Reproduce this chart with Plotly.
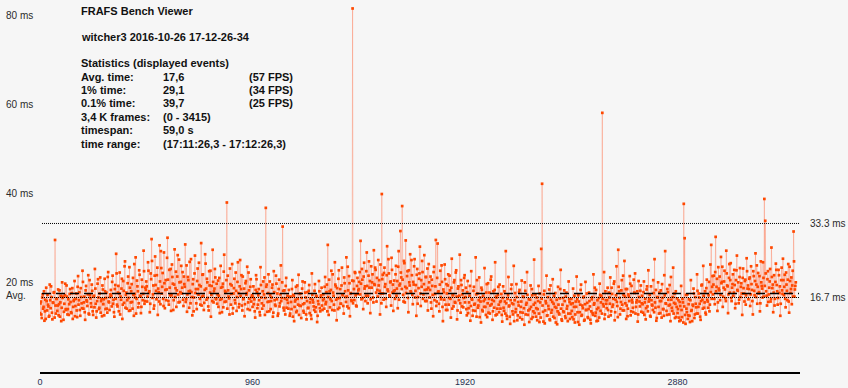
import plotly.graph_objects as go

# ---------------- data ----------------
# samples at frames 0, 4, 8, ...
frame_times_a = [
    13.2, 15.8, 12.1, 17.4, 14.6, 11.5, 16.2, 18.9, 13.8, 15.1, 12.4, 19.6, 14.3, 16.8, 11.8, 15.5, 17.9, 29.6, 13.1, 16.4,
    14.9, 12.7, 18.3, 15.6, 11.4, 20.1, 16.9, 13.5, 17.2, 14.1, 19.4, 12.9, 16.3, 15.2, 18.6, 13.4, 17.7, 11.9, 15.9, 20.4,
    14.8, 17.6, 12.3, 21.5, 16.1, 13.9, 18.8, 15.4, 22.7, 14.2, 16.9, 11.7, 19.3, 15.8, 17.4, 13.1, 20.6, 16.5, 14.6, 18.2,
    12.8, 17.1, 23.1, 15.3, 13.6, 19.8, 16.7, 14.4, 21.2, 15.9, 12.5, 18.5, 16.3, 20.9, 14.1, 17.8, 13.3, 22.4, 15.6, 16.8,
    18.4, 14.7, 21.6, 16.2, 12.4, 19.5, 26.5, 15.1, 17.8, 13.6, 22.3, 16.9, 18.7, 11.9, 20.4, 15.5, 24.8, 17.3, 14.2, 19.9,
    16.6, 23.5, 13.8, 18.1, 15.7, 21.1, 12.6, 17.5, 25.7, 16.4, 19.2, 14.5, 22.8, 17.1, 13.2, 20.7, 16.1, 27.2, 15.3, 18.9,
    20.3, 15.8, 24.6, 17.7, 13.4, 22.1, 29.8, 16.6, 19.4, 14.9, 25.9, 18.2, 21.7, 12.8, 17.9, 28.4, 15.2, 23.3, 19.1, 16.4,
    26.8, 14.3, 20.6, 18.5, 30.1, 15.9, 22.9, 17.2, 13.7, 24.1, 19.8, 16.1, 27.5, 18.8, 14.6, 21.4, 17.4, 25.2, 15.7, 20.2,
    17.6, 22.4, 14.8, 19.7, 28.6, 16.3, 13.5, 21.3, 18.1, 24.7, 15.4, 17.9, 12.7, 20.8, 16.7, 26.1, 18.6, 14.1, 23.2, 17.3,
    19.5, 15.1, 28.9, 16.9, 21.9, 13.9, 18.4, 24.3, 16.2, 20.1, 14.7, 22.6, 17.8, 12.4, 19.3, 27.4, 15.6, 18.7, 21.2, 16.5,
    15.3, 20.5, 17.1, 13.2, 23.8, 16.4, 19.1, 14.5, 26.3, 18.2, 15.8, 38.0, 21.6, 16.9, 12.9, 19.7, 17.5, 24.2, 14.3, 18.8,
    16.1, 22.3, 13.7, 20.2, 17.7, 15.2, 25.1, 18.6, 14.9, 21.4, 16.5, 12.5, 19.9, 17.3, 23.6, 15.6, 18.3, 13.9, 20.8, 16.8,
    14.6, 19.2, 16.3, 12.2, 21.7, 17.9, 15.1, 18.6, 13.4, 23.5, 16.7, 14.2, 20.3, 17.4, 12.8, 36.8, 19.6, 15.7, 21.9, 13.6,
    17.2, 15.9, 18.9, 12.4, 22.6, 16.1, 14.8, 19.8, 17.6, 13.1, 20.7, 15.4, 23.9, 16.6, 32.6, 14.4, 18.3, 12.9, 21.1, 16.2,
    15.5, 18.4, 12.6, 16.9, 14.1, 20.6, 17.3, 11.4, 15.8, 19.1, 13.7, 16.4, 21.8, 14.9, 17.6, 12.1, 18.7, 15.2, 13.3, 20.1,
    16.7, 11.8, 17.9, 14.4, 19.5, 15.6, 12.7, 22.1, 16.2, 14.7, 18.2, 13.5, 17.1, 11.2, 15.9, 20.4, 14.3, 16.8, 18.9, 13.9,
    17.4, 14.2, 21.3, 15.7, 19.6, 28.5, 12.8, 18.1, 16.3, 22.7, 13.9, 17.8, 15.1, 24.6, 19.2, 11.6, 16.5, 20.9, 14.4, 18.6,
    15.3, 23.4, 17.2, 13.1, 19.9, 16.8, 25.7, 14.7, 18.3, 21.5, 12.5, 17.7, 15.9, 81.5, 20.4, 16.1, 22.2, 14.9, 19.3, 17.5,
    18.6, 22.4, 29.4, 16.3, 20.7, 14.1, 24.5, 19.2, 17.1, 26.8, 15.4, 21.6, 18.9, 13.2, 23.7, 20.1, 16.7, 27.3, 19.5, 22.9,
    15.8, 18.4, 25.1, 20.6, 12.9, 17.6, 39.9, 21.8, 16.2, 23.4, 19.7, 14.6, 28.2, 18.1, 22.1, 16.9, 20.3, 25.6, 17.8, 13.7,
    20.5, 16.4, 23.8, 18.7, 14.3, 27.1, 19.4, 31.6, 21.2, 37.2, 17.3, 24.9, 15.6, 29.5, 18.8, 22.6, 13.4, 20.1, 26.4, 17.9,
    21.7, 15.2, 19.6, 25.3, 18.2, 12.6, 23.1, 16.8, 20.9, 28.1, 14.8, 19.1, 22.4, 17.4, 26.2, 15.9, 21.3, 18.5, 13.8, 24.2,
    16.7, 21.4, 14.2, 19.3, 12.5, 23.6, 17.5, 29.6, 15.8, 28.8, 18.1, 13.6, 22.7, 16.3, 20.2, 11.4, 17.9, 24.1, 15.1, 19.7,
    13.9, 21.9, 16.6, 18.3, 12.2, 25.4, 17.2, 14.7, 20.6, 15.5, 22.8, 11.8, 18.7, 16.1, 26.3, 13.3, 19.5, 17.4, 14.5, 21.1,
    15.6, 18.9, 12.7, 20.4, 14.3, 17.1, 11.5, 22.6, 16.2, 13.8, 19.1, 15.3, 25.7, 12.4, 17.6, 14.9, 21.2, 16.7, 11.1, 18.4,
    13.6, 15.9, 23.3, 14.6, 17.8, 12.3, 19.9, 16.4, 13.1, 20.7, 15.2, 11.7, 18.1, 14.4, 24.6, 16.9, 12.9, 17.3, 15.1, 19.6,
    14.2, 17.5, 11.3, 19.2, 13.7, 15.8, 27.1, 12.6, 16.4, 21.3, 14.9, 10.8, 18.6, 15.4, 12.9, 23.8, 16.1, 13.4, 19.7, 11.6,
    15.7, 17.9, 12.2, 14.6, 20.5, 13.3, 16.8, 10.6, 18.2, 15.1, 22.4, 12.8, 16.3, 14.1, 19.4, 11.9, 17.2, 13.6, 25.2, 15.5,
    12.4, 16.7, 14.1, 19.3, 11.2, 15.6, 27.6, 42.2, 13.5, 17.4, 10.9, 15.9, 21.6, 12.7, 14.8, 18.5, 11.6, 16.2, 13.9, 20.8,
    15.3, 12.1, 17.7, 14.4, 10.7, 19.1, 13.2, 16.5, 22.9, 11.8, 15.1, 13.6, 18.3, 12.5, 16.9, 14.2, 11.4, 20.3, 15.7, 13.1,
    16.4, 12.3, 18.7, 14.6, 11.1, 15.8, 21.4, 13.4, 17.2, 10.6, 15.1, 19.6, 12.8, 14.3, 16.9, 11.7, 20.2, 13.9, 15.5, 12.1,
    17.8, 14.7, 10.9, 16.3, 13.2, 21.9, 15.4, 12.6, 18.4, 14.1, 11.5, 16.6, 19.8, 13.7, 17.1, 58.1, 15.2, 22.4, 12.9, 16.1,
    14.3, 18.9, 12.4, 16.7, 21.2, 13.6, 17.5, 15.1, 19.8, 11.6, 16.2, 23.7, 14.8, 27.4, 18.1, 12.9, 15.7, 20.6, 13.8, 17.3,
    24.9, 15.4, 11.9, 18.6, 14.2, 16.9, 21.5, 12.7, 19.3, 15.6, 13.4, 17.8, 22.1, 14.6, 16.1, 11.3, 20.4, 15.8, 18.2, 13.5,
    17.1, 13.3, 20.3, 15.6, 11.8, 18.5, 14.7, 22.8, 16.4, 12.6, 19.2, 15.1, 13.9, 17.7, 25.3, 14.4, 11.5, 16.8, 20.1, 13.1,
    15.9, 18.3, 12.2, 16.6, 14.1, 21.7, 27.1, 15.3, 12.8, 17.9, 14.9, 19.5, 11.4, 16.2, 13.7, 23.4, 15.5, 12.1, 18.1, 14.6,
    13.2, 16.1, 11.4, 14.8, 19.3, 12.3, 15.6, 37.7, 30.0, 10.8, 14.2, 17.4, 12.7, 16.3, 11.2, 20.6, 13.9, 15.1, 18.7, 12.1,
    16.8, 14.5, 21.9, 13.1, 17.6, 15.3, 11.7, 19.4, 16.2, 23.8, 14.4, 18.1, 12.9, 20.7, 15.8, 17.2, 13.6, 24.1, 28.5, 19.1,
    17.4, 21.6, 15.2, 30.3, 19.1, 13.7, 23.5, 18.3, 16.1, 25.8, 20.2, 14.6, 18.9, 22.7, 16.5, 27.2, 19.4, 13.2, 21.1, 17.8,
    24.4, 15.9, 19.7, 17.1, 22.9, 14.3, 20.6, 26.1, 18.2, 15.4, 21.3, 16.8, 19.9, 12.8, 23.2, 17.6, 20.4, 15.1, 25.5, 18.7,
    16.3, 20.9, 14.8, 23.7, 18.4, 12.9, 21.5, 17.2, 26.6, 19.6, 15.3, 22.2, 17.9, 13.6, 24.8, 19.3, 16.7, 21.1, 38.8, 33.9,
    18.1, 14.9, 22.6, 17.4, 20.3, 15.8, 27.9, 18.8, 13.4, 21.7, 16.4, 24.3, 19.5, 15.1, 22.9, 17.7, 12.6, 20.6, 18.3, 25.4,
    17.2, 21.8, 14.5, 19.6, 16.1, 24.2, 13.3, 20.4, 18.6, 15.2, 22.7, 31.5, 16.9, 19.3,
]
# samples at frames 2, 6, 10, ...
frame_times_b = [
    15.4, 12.9, 16.7, 14.2, 18.1, 13.6, 11.9, 15.9, 17.3, 14.7, 12.6, 16.1, 19.2, 13.3, 15.6, 17.8, 12.2, 14.9, 16.4, 13.7,
    18.5, 15.2, 12.4, 17.1, 14.4, 16.6, 11.7, 15.3, 19.8, 13.9, 16.9, 14.1, 12.8, 17.5, 15.7, 13.2, 18.8, 14.6, 16.2, 12.5,
    16.4, 13.8, 19.1, 15.1, 17.9, 12.6, 16.8, 14.3, 20.2, 15.6, 13.4, 18.3, 16.1, 14.8, 21.7, 12.9, 17.2, 15.4, 19.6, 13.6,
    16.9, 14.5, 18.7, 12.2, 15.9, 20.8, 14.1, 17.6, 13.3, 16.4, 19.4, 15.2, 12.7, 18.1, 16.6, 14.2, 21.3, 15.8, 13.9, 17.4,
    17.1, 20.2, 15.3, 13.4, 18.6, 16.4, 22.1, 14.7, 19.3, 17.6, 12.9, 16.2, 20.9, 15.1, 18.2, 23.7, 14.4, 17.8, 16.1, 21.4,
    13.7, 18.9, 15.6, 19.7, 14.2, 17.3, 24.2, 16.7, 13.1, 20.5, 18.1, 15.4, 21.8, 16.9, 14.6, 19.1, 17.5, 22.6, 15.9, 18.4,
    19.2, 16.9, 22.7, 18.1, 15.3, 20.8, 24.9, 17.4, 14.2, 21.6, 19.5, 16.3, 23.4, 18.7, 15.8, 20.3, 27.1, 17.6, 22.2, 14.8,
    19.9, 18.4, 16.1, 25.6, 20.7, 15.1, 18.9, 23.1, 17.2, 21.3, 13.9, 19.6, 16.8, 22.5, 18.3, 26.2, 15.6, 20.1, 17.9, 23.8,
    18.9, 16.2, 21.4, 19.1, 15.7, 23.9, 17.4, 20.6, 14.4, 18.2, 25.3, 16.8, 19.7, 13.6, 22.1, 17.7, 15.4, 20.4, 18.6, 24.5,
    16.4, 19.2, 14.9, 21.8, 17.1, 15.5, 26.4, 18.7, 20.9, 16.6, 13.8, 19.4, 22.7, 17.3, 15.9, 20.2, 18.1, 23.1, 16.3, 19.8,
    17.4, 14.6, 21.1, 16.2, 18.9, 13.4, 19.8, 22.5, 15.7, 17.9, 20.6, 14.2, 18.3, 16.5, 23.2, 15.1, 19.4, 13.1, 17.6, 20.9,
    15.4, 18.2, 16.8, 24.6, 14.5, 19.2, 17.1, 21.7, 13.8, 16.3, 18.7, 15.2, 20.4, 17.7, 14.1, 22.3, 16.4, 19.1, 15.8, 17.2,
    16.9, 15.2, 13.6, 18.4, 20.8, 14.3, 17.2, 16.1, 12.7, 19.5, 15.4, 18.1, 14.9, 21.2, 16.6, 19.1, 13.5, 17.7, 15.8, 20.3,
    14.1, 16.7, 19.6, 13.3, 17.9, 15.1, 21.6, 16.3, 12.6, 18.6, 14.7, 17.4, 15.9, 20.1, 18.2, 13.8, 16.5, 19.3, 14.4, 17.1,
    14.2, 16.8, 13.1, 15.7, 18.6, 12.4, 17.1, 14.6, 16.2, 13.4, 19.4, 15.1, 12.8, 17.5, 14.8, 16.6, 20.3, 13.7, 15.4, 17.8,
    12.9, 15.9, 14.3, 18.2, 13.2, 16.4, 11.9, 17.3, 15.6, 13.9, 19.7, 14.5, 16.9, 12.6, 15.2, 18.1, 13.6, 17.2, 14.9, 16.1,
    16.4, 19.1, 15.2, 17.9, 13.6, 16.8, 20.7, 14.5, 18.4, 15.9, 21.9, 17.1, 13.8, 19.6, 16.2, 18.8, 14.1, 22.8, 16.6, 15.3,
    19.4, 17.4, 14.8, 21.2, 18.1, 15.7, 16.9, 23.6, 14.3, 19.9, 17.6, 16.1, 20.5, 15.4, 18.6, 22.4, 17.2, 14.7, 21.1, 18.3,
    20.2, 17.4, 19.8, 23.1, 16.6, 21.4, 18.7, 15.9, 22.6, 19.3, 17.1, 24.8, 20.4, 16.3, 18.9, 21.9, 15.6, 19.7, 23.4, 17.8,
    21.1, 16.9, 19.4, 18.2, 24.1, 15.4, 20.8, 17.6, 22.2, 19.1, 16.4, 21.7, 18.5, 25.3, 17.2, 20.1, 14.9, 22.9, 19.6, 18.1,
    18.3, 21.9, 17.1, 20.4, 23.6, 16.2, 19.8, 22.3, 18.6, 20.7, 15.8, 24.4, 19.1, 17.7, 21.5, 16.6, 22.8, 19.4, 18.1, 25.1,
    17.3, 20.2, 23.7, 16.7, 19.5, 21.8, 15.3, 18.8, 22.1, 17.6, 20.6, 24.9, 16.4, 19.7, 18.4, 21.3, 15.9, 23.2, 18.9, 20.1,
    18.4, 15.6, 20.7, 17.3, 22.4, 16.1, 19.2, 14.8, 21.1, 17.9, 15.3, 19.6, 16.8, 23.9, 14.6, 18.5, 16.2, 20.8, 13.9, 17.6,
    19.4, 15.1, 21.6, 16.4, 18.9, 14.2, 17.3, 20.1, 15.7, 22.3, 16.9, 13.8, 19.2, 17.1, 15.4, 20.6, 14.7, 18.3, 16.6, 21.7,
    16.8, 14.1, 17.9, 13.2, 15.6, 19.3, 14.8, 16.4, 12.6, 18.2, 15.1, 13.7, 17.4, 20.6, 14.4, 16.1, 12.3, 15.8, 18.9, 13.9,
    17.1, 14.6, 16.3, 12.8, 19.7, 15.4, 13.3, 17.8, 14.9, 21.4, 16.2, 13.6, 15.9, 18.4, 12.7, 16.7, 14.2, 19.1, 13.4, 15.7,
    15.9, 12.8, 16.6, 14.4, 18.1, 13.1, 15.4, 11.9, 17.2, 14.7, 12.4, 16.1, 19.6, 13.6, 15.2, 11.4, 17.7, 14.1, 16.8, 12.7,
    14.9, 18.4, 13.4, 15.8, 11.8, 16.9, 14.3, 20.1, 12.9, 15.5, 17.3, 13.8, 11.2, 16.2, 14.6, 18.6, 12.3, 15.1, 13.2, 17.4,
    14.3, 11.6, 15.9, 13.1, 17.6, 12.2, 16.4, 14.9, 11.3, 18.2, 13.8, 15.4, 12.6, 16.8, 14.1, 11.8, 19.4, 13.3, 15.7, 12.4,
    17.1, 14.6, 11.1, 16.2, 13.6, 15.1, 12.9, 18.6, 14.2, 11.5, 16.6, 13.4, 15.9, 12.1, 17.8, 14.8, 13.1, 16.3, 11.9, 15.2,
    13.7, 15.4, 11.8, 17.1, 12.9, 14.6, 16.3, 11.2, 15.8, 13.4, 18.4, 12.6, 14.9, 16.7, 11.5, 15.2, 13.9, 17.6, 12.3, 14.1,
    15.9, 11.7, 13.6, 16.8, 12.8, 15.1, 18.9, 13.3, 11.4, 16.1, 14.4, 12.2, 17.3, 15.6, 13.1, 16.4, 14.7, 11.9, 18.1, 15.3,
    16.1, 13.9, 17.8, 15.3, 12.7, 18.9, 14.6, 16.4, 20.3, 13.4, 17.2, 15.7, 12.3, 19.1, 16.6, 14.2, 18.3, 15.1, 21.6, 13.8,
    16.9, 18.6, 14.9, 12.5, 17.4, 15.9, 19.8, 13.6, 16.2, 14.4, 20.7, 17.7, 13.1, 15.6, 18.1, 12.9, 16.8, 14.7, 19.4, 15.4,
    15.2, 17.9, 12.8, 16.4, 14.3, 19.2, 13.6, 15.8, 17.3, 12.4, 16.1, 14.9, 20.6, 13.4, 15.6, 18.4, 12.1, 16.7, 14.6, 17.8,
    13.2, 15.9, 19.7, 14.1, 12.6, 17.2, 15.4, 13.7, 18.6, 16.2, 12.9, 15.1, 21.3, 14.4, 16.8, 13.1, 17.6, 15.3, 12.3, 16.5,
    14.1, 12.2, 15.7, 11.6, 13.9, 16.4, 11.1, 14.7, 12.8, 17.3, 13.4, 11.9, 15.2, 12.6, 16.1, 13.7, 11.4, 14.8, 17.6, 12.9,
    15.3, 13.1, 18.2, 14.6, 16.7, 12.4, 15.9, 19.6, 14.2, 17.1, 15.6, 13.3, 18.8, 16.2, 14.4, 20.2, 15.1, 17.9, 16.4, 21.5,
    19.6, 16.4, 22.4, 18.1, 20.9, 15.6, 18.7, 21.4, 17.3, 19.9, 23.6, 16.9, 20.3, 18.5, 15.9, 22.1, 19.2, 17.4, 24.2, 20.6,
    16.6, 18.9, 21.9, 17.8, 19.5, 15.3, 22.8, 18.4, 20.1, 16.2, 23.3, 19.1, 17.6, 21.1, 18.8, 15.8, 20.7, 17.2, 22.6, 19.4,
    18.6, 21.2, 17.4, 19.7, 15.9, 22.6, 18.2, 20.4, 16.8, 23.9, 19.1, 17.6, 21.5, 15.4, 20.1, 18.7, 24.6, 16.9, 19.3, 22.1,
    17.1, 20.8, 15.7, 18.9, 23.1, 16.4, 21.3, 19.6, 17.8, 14.9, 20.2, 22.9, 18.1, 16.6, 21.7, 19.2, 15.3, 23.4, 17.5, 20.6,
    19.1, 16.4, 22.3, 18.2, 20.7, 15.8, 23.6, 17.7, 21.2, 19.4, 16.9, 24.8, 18.5, 20.1,
]

# interleave the two sample sets into one frame-ordered series
frames, frame_times = [], []
for i, (a, b) in enumerate(zip(frame_times_a, frame_times_b)):
    frames += [4 * i, 4 * i + 2]
    frame_times += [a, b]

x_ticks = [0, 960, 1920, 2880]
y_tick_vals = [80, 60, 40, 20]
y_tick_text = ["80 ms", "60 ms", "40 ms", "20 ms"]
avg_time = 17.6
ref_lines = [33.3, 16.7]
ref_text = ["33.3 ms", "16.7 ms"]

title_1 = "FRAFS Bench Viewer"
title_2 = "witcher3 2016-10-26 17-12-26-34"
stats_header = "Statistics (displayed events)"
stat_labels = ["Avg. time:", "1% time:", "0.1% time:", "3,4 K frames:", "timespan:", "time range:"]
stat_values = ["17,6", "29,1", "39,7", "(0 - 3415)", "59,0 s", "(17:11:26,3 - 17:12:26,3)"]
stat_fps = ["(57 FPS)", "(34 FPS)", "(25 FPS)", "", "", ""]

# ---------------- layout geometry ----------------
W, H = 848, 388
L, R, T, B = 40, 48, 0, 16
PW, PH = W - L - R, H - T - B
X_MAX = 3433
Y_MAX = 83.4


def px(xp):
    return (xp - L) / PW


def py(yp):
    return 1 - (yp - T) / PH


fig = go.Figure()
fig.add_trace(go.Scatter(
    x=frames, y=frame_times, mode="lines+markers",
    line=dict(color="rgba(255,110,70,0.33)", width=1),
    marker=dict(symbol="square", size=2.7, color="#ff4800", line=dict(width=0)),
    hoverinfo="skip", showlegend=False,
))

shapes = []
for v in ref_lines:
    shapes.append(dict(type="line", xref="paper", yref="y", x0=px(42), x1=px(799), y0=v, y1=v,
                       line=dict(color="black", width=1, dash="1px,1px")))
shapes.append(dict(type="line", xref="paper", yref="y", x0=px(42), x1=px(799), y0=avg_time, y1=avg_time,
                   line=dict(color="black", width=1.6, dash="9px,5px")))

ann = []
small = dict(family="Liberation Sans, Arial, sans-serif", size=10, color="#2b2b2b")
for v, t in zip(y_tick_vals, y_tick_text):
    ann.append(dict(xref="paper", yref="y", x=px(4), y=v, text=t, showarrow=False,
                    xanchor="left", yanchor="middle", font=small))
ann.append(dict(xref="paper", yref="y", x=px(4), y=avg_time - 0.5, text="Avg.", showarrow=False,
                xanchor="left", yanchor="middle", font=small))
for v, t in zip(ref_lines, ref_text):
    ann.append(dict(xref="paper", yref="y", x=px(808), y=v, text=t, showarrow=False,
                    xanchor="left", yanchor="middle", font=small))

bold = dict(family="Liberation Sans, Arial, sans-serif", size=11, color="#111111")


def txt(x, y, s):
    ann.append(dict(xref="paper", yref="paper", x=px(x), y=py(y), text="<b>%s</b>" % s,
                    showarrow=False, xanchor="left", yanchor="middle", font=bold))


txt(79, 11, title_1)
txt(79, 37, title_2)
txt(79, 63, stats_header)
for i, (a, b, c) in enumerate(zip(stat_labels, stat_values, stat_fps)):
    yy = 76.5 + i * 13.4
    txt(79, yy, a)
    txt(161, yy, b)
    if c:
        txt(247, yy, c)

fig.update_layout(
    width=W, height=H,
    margin=dict(l=L, r=R, t=T, b=B, pad=0),
    paper_bgcolor="#f6f6f6", plot_bgcolor="#f6f6f6",
    shapes=shapes, annotations=ann,
    xaxis=dict(range=[0, X_MAX], tickvals=x_ticks, ticktext=[str(v) for v in x_ticks],
               showgrid=False, zeroline=False, showline=True, linecolor="black", linewidth=1.5,
               ticks="", tickfont=dict(family="Liberation Sans Narrow, Liberation Sans, sans-serif",
                                       size=9, color="#1f3050"),
               fixedrange=True),
    yaxis=dict(range=[0, Y_MAX], showgrid=False, zeroline=False, showline=False,
               showticklabels=False, ticks="", fixedrange=True),
)

fig.write_html("out.html", config={"displayModeBar": False},
               post_script="document.body.style.margin='0px';document.body.style.background='#f6f6f6';")
